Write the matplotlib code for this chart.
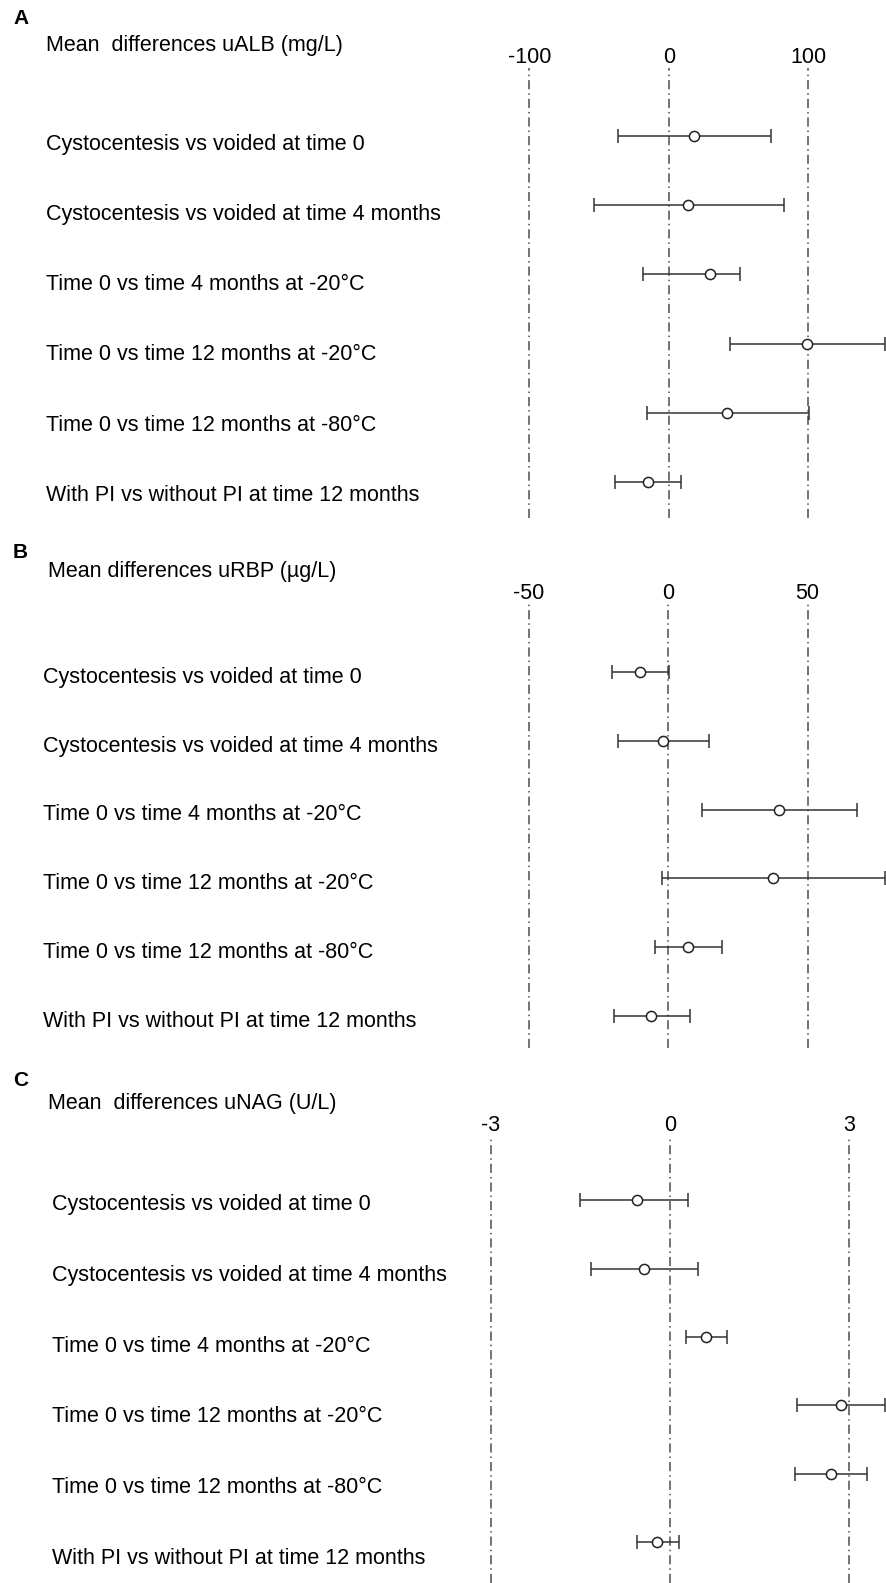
import numpy as np
import matplotlib
matplotlib.use('Agg')
import matplotlib.pyplot as plt
from matplotlib.transforms import blended_transform_factory

plt.rcParams['font.family'] = ['Liberation Sans', 'DejaVu Sans']
plt.rcParams['axes.unicode_minus'] = False

W, H = 886, 1583   # figure size in pixels (dpi 100)
FS = 15.5

#--row labels (same in all three panels)
rows = ['Cystocentesis vs voided at time 0',
        'Cystocentesis vs voided at time 4 months',
        'Time 0 vs time 4 months at -20°C',
        'Time 0 vs time 12 months at -20°C',
        'Time 0 vs time 12 months at -80°C',
        'With PI vs without PI at time 12 months']

#--A: uALB (mg/L)
alb_mean = [18.4, 13.8, 29.4, 99.1, 42.0, -15.1]
alb_lo   = [-36.1, -53.8, -18.4, 43.9, -15.6, -38.5]
alb_hi   = [73.5, 82.4, 51.3, 155.3, 100.8, 9.1]
alb_ticks = [-100, 0, 100]

#--B: uRBP (ug/L)
rbp_mean = [-10.2, -2.0, 39.7, 37.5, 7.0, -6.1]
rbp_lo   = [-20.3, -18.1, 12.2, -2.3, -4.9, -19.4]
rbp_hi   = [0.4, 14.6, 67.6, 77.9, 19.4, 7.7]
rbp_ticks = [-50, 0, 50]

#--C: uNAG (U/L)
nag_mean = [-0.56, -0.44, 0.60, 2.86, 2.69, -0.21]
nag_lo   = [-1.50, -1.32, 0.27, 2.13, 2.09, -0.55]
nag_hi   = [0.30, 0.47, 0.95, 3.60, 3.30, 0.15]
nag_ticks = [-3, 0, 3]

#--layout in pixels: letter y, title x/y, axes top/bottom, first row y, row step,
#--x pixel of zero, pixels per unit, label x, label baseline shift/step (row units)
panels = [
    dict(letter='A', ly=19, title='Mean  differences uALB (mg/L)', tx=46, ty=45,
         mean=alb_mean, lo=alb_lo, hi=alb_hi, ticks=alb_ticks,
         top=68, bot=518, row0=136, step=69.2, zero=668.8, ppu=1.395,
         labx=46, lab0=0.20, labstep=1.014),
    dict(letter='B', ly=553, title='Mean differences uRBP (µg/L)', tx=48, ty=572,
         mean=rbp_mean, lo=rbp_lo, hi=rbp_hi, ticks=rbp_ticks,
         top=604, bot=1048, row0=672.3, step=68.7, zero=668.3, ppu=2.786,
         labx=43, lab0=0.156, labstep=1.0),
    dict(letter='C', ly=1081, title='Mean  differences uNAG (U/L)', tx=48, ty=1103,
         mean=nag_mean, lo=nag_lo, hi=nag_hi, ticks=nag_ticks,
         top=1136, bot=1583, row0=1200.3, step=68.3, zero=670.0, ppu=59.7,
         labx=51.5, lab0=0.142, labstep=1.037),
]

fig = plt.figure(figsize=(W/100., H/100.), dpi=100)

for p in panels:
    ax = fig.add_axes([0, 1-p['bot']/H, 1, (p['bot']-p['top'])/H])
    mean = np.array(p['mean'])
    lo = np.array(p['lo'])
    hi = np.array(p['hi'])
    y = np.arange(len(mean))

    ax.errorbar(mean, y, xerr=[mean-lo, hi-mean], fmt='o', ms=7.3, mfc='white',
                mec='#222222', mew=1.1, ecolor='#333333', elinewidth=1.1,
                capsize=5.3, capthick=1.1, clip_on=False, zorder=3)

    ax.set_xlim(-p['zero']/p['ppu'], (W-p['zero'])/p['ppu'])
    ax.set_ylim((p['bot']-p['row0'])/p['step'], -(p['row0']-p['top'])/p['step'])

    ax.set_xticks(p['ticks'])
    ax.xaxis.tick_top()
    ax.tick_params(axis='x', length=0, pad=0, labelsize=FS)
    ax.set_yticks([])
    ax.grid(axis='x', color='#4d4d4d', lw=1.1, ls=(0, (6, 2.6, 1, 2.6)))
    for s in ax.spines.values(): s.set_visible(False)
    ax.patch.set_alpha(0)

    tr = blended_transform_factory(ax.transAxes, ax.transData)
    for i, lab in enumerate(rows):
        ax.text(p['labx']/W, p['lab0']+i*p['labstep'], lab, transform=tr,
                va='baseline', ha='left', size=FS)

    fig.text(13/W, 1-p['ly']/H, p['letter'], weight='bold', size=15, va='center')
    fig.text(p['tx']/W, 1-p['ty']/H, p['title'], size=FS, va='center')

fig.savefig('out.png', dpi=100)
